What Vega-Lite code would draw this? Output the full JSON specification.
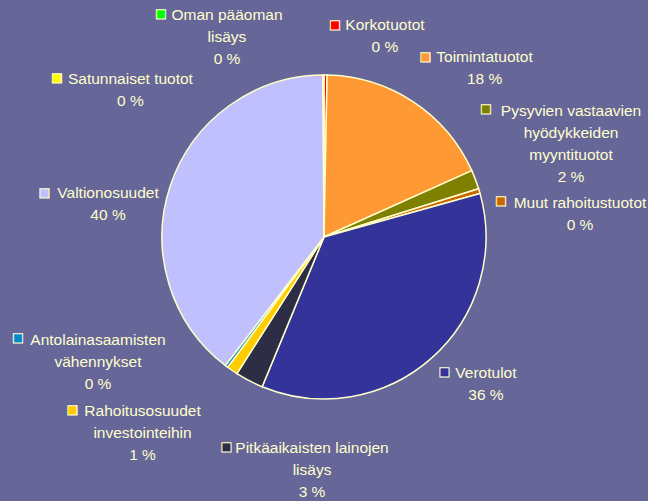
{
  "$schema": "https://vega.github.io/schema/vega-lite/v6.json",
  "width": 648,
  "height": 474,
  "autosize": {"type": "none"},
  "padding": {"left": 0, "top": 0, "right": 0, "bottom": 27},
  "background": "#666699",
  "config": {"view": {"stroke": null}},
  "data": {
    "values": [
      {"idx": 1, "name": "Korkotuotot", "wrapped": "Korkotuotot", "pct": "0 %", "value": 0.3},
      {"idx": 2, "name": "Toimintatuotot", "wrapped": "Toimintatuotot", "pct": "18 %", "value": 18.0},
      {"idx": 3, "name": "Pysyvien vastaavien hyödykkeiden myyntituotot", "wrapped": "Pysyvien vastaavien\nhyödykkeiden\nmyyntituotot", "pct": "2 %", "value": 1.9},
      {"idx": 4, "name": "Muut rahoitustuotot", "wrapped": "Muut rahoitustuotot", "pct": "0 %", "value": 0.48},
      {"idx": 5, "name": "Verotulot", "wrapped": "Verotulot", "pct": "36 %", "value": 35.6},
      {"idx": 6, "name": "Pitkäaikaisten lainojen lisäys", "wrapped": "Pitkäaikaisten lainojen\nlisäys", "pct": "3 %", "value": 2.8},
      {"idx": 7, "name": "Rahoitusosuudet investointeihin", "wrapped": "Rahoitusosuudet\ninvestointeihin", "pct": "1 %", "value": 1.1},
      {"idx": 8, "name": "Antolainasaamisten vähennykset", "wrapped": "Antolainasaamisten\nvähennykset", "pct": "0 %", "value": 0.3},
      {"idx": 9, "name": "Valtionosuudet", "wrapped": "Valtionosuudet", "pct": "40 %", "value": 39.5},
      {"idx": 10, "name": "Satunnaiset tuotot", "wrapped": "Satunnaiset tuotot", "pct": "0 %", "value": 0.05},
      {"idx": 11, "name": "Oman pääoman lisäys", "wrapped": "Oman pääoman\nlisäys", "pct": "0 %", "value": 0.05}
    ]
  },
  "transform": [{"calculate": "datum.wrapped + '\\n' + datum.pct", "as": "txt"}],
  "encoding": {
    "theta": {"field": "value", "type": "quantitative", "stack": true},
    "order": {"field": "idx", "type": "quantitative"}
  },
  "layer": [
    {
      "mark": {"type": "arc", "outerRadius": 162, "stroke": "#FFFFCC", "strokeWidth": 1.5},
      "encoding": {
        "color": {
          "field": "name", "type": "nominal", "legend": null,
          "scale": {
            "domain": ["Korkotuotot", "Toimintatuotot", "Pysyvien vastaavien hyödykkeiden myyntituotot", "Muut rahoitustuotot", "Verotulot", "Pitkäaikaisten lainojen lisäys", "Rahoitusosuudet investointeihin", "Antolainasaamisten vähennykset", "Valtionosuudet", "Satunnaiset tuotot", "Oman pääoman lisäys"],
            "range": ["#FF0000", "#FF9933", "#808000", "#CC6600", "#333399", "#2D2D45", "#FFCC00", "#0088CC", "#C0C0FF", "#FFFF00", "#00FF00"]
          }
        }
      }
    },
    {"mark": {"type": "text", "radius": 200, "dx": 59.1, "dy": -19, "align": "center", "baseline": "top", "lineBreak": "\n", "lineHeight": 22, "fontSize": 15.5, "font": "Liberation Sans", "fill": "#FFFFCC"},
     "encoding": {"text": {"condition": {"test": "datum.idx === 1", "field": "txt"}, "value": ""}}},
    {"mark": {"type": "text", "radius": 200, "dx": 50.3, "dy": -20.1, "align": "center", "baseline": "top", "lineBreak": "\n", "lineHeight": 22, "fontSize": 15.5, "font": "Liberation Sans", "fill": "#FFFFCC"},
     "encoding": {"text": {"condition": {"test": "datum.idx === 2", "field": "txt"}, "value": ""}}},
    {"mark": {"type": "text", "radius": 200, "dx": 60, "dy": -62.1, "align": "center", "baseline": "top", "lineBreak": "\n", "lineHeight": 22, "fontSize": 15.5, "font": "Liberation Sans", "fill": "#FFFFCC"},
     "encoding": {"text": {"condition": {"test": "datum.idx === 3", "field": "txt"}, "value": ""}}},
    {"mark": {"type": "text", "radius": 200, "dx": 64.2, "dy": 15.7, "align": "center", "baseline": "top", "lineBreak": "\n", "lineHeight": 22, "fontSize": 15.5, "font": "Liberation Sans", "fill": "#FFFFCC"},
     "encoding": {"text": {"condition": {"test": "datum.idx === 4", "field": "txt"}, "value": ""}}},
    {"mark": {"type": "text", "radius": 200, "dx": 29.2, "dy": -20.6, "align": "center", "baseline": "top", "lineBreak": "\n", "lineHeight": 22, "fontSize": 15.5, "font": "Liberation Sans", "fill": "#FFFFCC"},
     "encoding": {"text": {"condition": {"test": "datum.idx === 5", "field": "txt"}, "value": ""}}},
    {"mark": {"type": "text", "radius": 200, "dx": 80.3, "dy": 26.6, "align": "center", "baseline": "top", "lineBreak": "\n", "lineHeight": 22, "fontSize": 15.5, "font": "Liberation Sans", "fill": "#FFFFCC"},
     "encoding": {"text": {"condition": {"test": "datum.idx === 6", "field": "txt"}, "value": ""}}},
    {"mark": {"type": "text", "radius": 200, "dx": -68.2, "dy": 2.2, "align": "center", "baseline": "top", "lineBreak": "\n", "lineHeight": 22, "fontSize": 15.5, "font": "Liberation Sans", "fill": "#FFFFCC"},
     "encoding": {"text": {"condition": {"test": "datum.idx === 7", "field": "txt"}, "value": ""}}},
    {"mark": {"type": "text", "radius": 200, "dx": -105.6, "dy": -63.7, "align": "center", "baseline": "top", "lineBreak": "\n", "lineHeight": 22, "fontSize": 15.5, "font": "Liberation Sans", "fill": "#FFFFCC"},
     "encoding": {"text": {"condition": {"test": "datum.idx === 8", "field": "txt"}, "value": ""}}},
    {"mark": {"type": "text", "radius": 200, "dx": -26.4, "dy": 12.8, "align": "center", "baseline": "top", "lineBreak": "\n", "lineHeight": 22, "fontSize": 15.5, "font": "Liberation Sans", "fill": "#FFFFCC"},
     "encoding": {"text": {"condition": {"test": "datum.idx === 9", "field": "txt"}, "value": ""}}},
    {"mark": {"type": "text", "radius": 200, "dx": -192.6, "dy": 35, "align": "center", "baseline": "top", "lineBreak": "\n", "lineHeight": 22, "fontSize": 15.5, "font": "Liberation Sans", "fill": "#FFFFCC"},
     "encoding": {"text": {"condition": {"test": "datum.idx === 10", "field": "txt"}, "value": ""}}},
    {"mark": {"type": "text", "radius": 200, "dx": -96.7, "dy": -29, "align": "center", "baseline": "top", "lineBreak": "\n", "lineHeight": 22, "fontSize": 15.5, "font": "Liberation Sans", "fill": "#FFFFCC"},
     "encoding": {"text": {"condition": {"test": "datum.idx === 11", "field": "txt"}, "value": ""}}},
    {"mark": {"type": "text", "radius": 200, "dx": 9.1, "dy": -6, "align": "center", "baseline": "alphabetic", "fontSize": 19, "font": "Liberation Sans", "stroke": "#FFFFCC", "strokeWidth": 1},
     "encoding": {"text": {"condition": {"test": "datum.idx === 1", "value": "■"}, "value": ""}, "color": {"field": "name", "type": "nominal", "legend": null}}},
    {"mark": {"type": "text", "radius": 200, "dx": -8.7, "dy": -7.1, "align": "center", "baseline": "alphabetic", "fontSize": 19, "font": "Liberation Sans", "stroke": "#FFFFCC", "strokeWidth": 1},
     "encoding": {"text": {"condition": {"test": "datum.idx === 2", "value": "■"}, "value": ""}, "color": {"field": "name", "type": "nominal", "legend": null}}},
    {"mark": {"type": "text", "radius": 200, "dx": -25, "dy": -51.1, "align": "center", "baseline": "alphabetic", "fontSize": 19, "font": "Liberation Sans", "stroke": "#FFFFCC", "strokeWidth": 1},
     "encoding": {"text": {"condition": {"test": "datum.idx === 3", "value": "■"}, "value": ""}, "color": {"field": "name", "type": "nominal", "legend": null}}},
    {"mark": {"type": "text", "radius": 200, "dx": -14.8, "dy": 26.7, "align": "center", "baseline": "alphabetic", "fontSize": 19, "font": "Liberation Sans", "stroke": "#FFFFCC", "strokeWidth": 1},
     "encoding": {"text": {"condition": {"test": "datum.idx === 4", "value": "■"}, "value": ""}, "color": {"field": "name", "type": "nominal", "legend": null}}},
    {"mark": {"type": "text", "radius": 200, "dx": -12.3, "dy": -8.6, "align": "center", "baseline": "alphabetic", "fontSize": 19, "font": "Liberation Sans", "stroke": "#FFFFCC", "strokeWidth": 1},
     "encoding": {"text": {"condition": {"test": "datum.idx === 5", "value": "■"}, "value": ""}, "color": {"field": "name", "type": "nominal", "legend": null}}},
    {"mark": {"type": "text", "radius": 200, "dx": -5.2, "dy": 38.6, "align": "center", "baseline": "alphabetic", "fontSize": 19, "font": "Liberation Sans", "stroke": "#FFFFCC", "strokeWidth": 1},
     "encoding": {"text": {"condition": {"test": "datum.idx === 6", "value": "■"}, "value": ""}, "color": {"field": "name", "type": "nominal", "legend": null}}},
    {"mark": {"type": "text", "radius": 200, "dx": -138.2, "dy": 14.2, "align": "center", "baseline": "alphabetic", "fontSize": 19, "font": "Liberation Sans", "stroke": "#FFFFCC", "strokeWidth": 1},
     "encoding": {"text": {"condition": {"test": "datum.idx === 7", "value": "■"}, "value": ""}, "color": {"field": "name", "type": "nominal", "legend": null}}},
    {"mark": {"type": "text", "radius": 200, "dx": -185.6, "dy": -52.7, "align": "center", "baseline": "alphabetic", "fontSize": 19, "font": "Liberation Sans", "stroke": "#FFFFCC", "strokeWidth": 1},
     "encoding": {"text": {"condition": {"test": "datum.idx === 8", "value": "■"}, "value": ""}, "color": {"field": "name", "type": "nominal", "legend": null}}},
    {"mark": {"type": "text", "radius": 200, "dx": -89.9, "dy": 25.8, "align": "center", "baseline": "alphabetic", "fontSize": 19, "font": "Liberation Sans", "stroke": "#FFFFCC", "strokeWidth": 1},
     "encoding": {"text": {"condition": {"test": "datum.idx === 9", "value": "■"}, "value": ""}, "color": {"field": "name", "type": "nominal", "legend": null}}},
    {"mark": {"type": "text", "radius": 200, "dx": -266.1, "dy": 47, "align": "center", "baseline": "alphabetic", "fontSize": 19, "font": "Liberation Sans", "stroke": "#FFFFCC", "strokeWidth": 1},
     "encoding": {"text": {"condition": {"test": "datum.idx === 10", "value": "■"}, "value": ""}, "color": {"field": "name", "type": "nominal", "legend": null}}},
    {"mark": {"type": "text", "radius": 200, "dx": -162.7, "dy": -17, "align": "center", "baseline": "alphabetic", "fontSize": 19, "font": "Liberation Sans", "stroke": "#FFFFCC", "strokeWidth": 1},
     "encoding": {"text": {"condition": {"test": "datum.idx === 11", "value": "■"}, "value": ""}, "color": {"field": "name", "type": "nominal", "legend": null}}}
  ]
}
